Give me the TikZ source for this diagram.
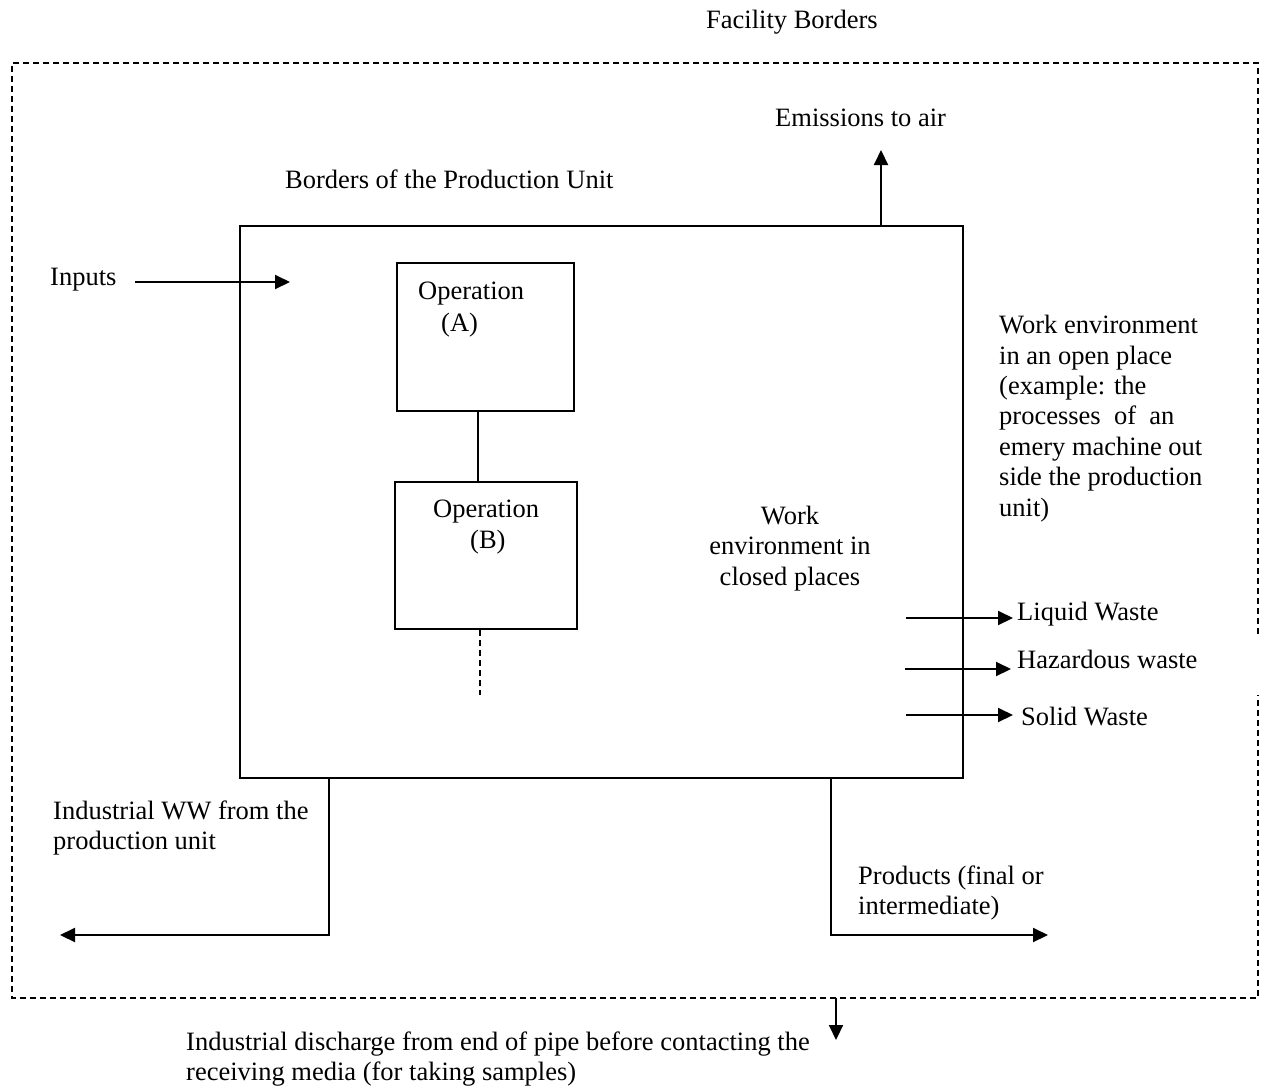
\documentclass[tikz,border=0pt]{standalone}
\usepackage{fontspec}
\setmainfont{Liberation Serif}
\usetikzlibrary{arrows.meta,calc}
\begin{document}
\begin{tikzpicture}[x=1pt,y=-1pt,
  txt/.style={inner sep=0pt, font=\fontsize{26.5}{30}\selectfont, align=left},
  ln/.style={line width=2pt},
  arr/.style={ln,-{Triangle[length=15pt,width=14pt]}},
  dsh/.style={line width=2pt,dash pattern=on 6pt off 4pt},
  boxn/.style={draw,line width=2pt,inner sep=0pt}
]
\useasboundingbox (0,0) rectangle (1266,1092);

% facility border (dashed, gap on right side)
\coordinate (fTL) at (12,63);
\coordinate (fTR) at (1258,63);
\coordinate (fBR) at (1258,998);
\coordinate (fBL) at (12,998);
\coordinate (gapT) at (1258,634);
\coordinate (gapB) at (1258,695);
\draw[dsh] (gapT) -- (fTR) -- (fTL) -- (fBL) -- (fBR) -- (gapB);

% boxes
\node[boxn,minimum width=723pt,minimum height=552pt] (pu) at (601.5,502) {};
\node[boxn,minimum width=177pt,minimum height=148pt] (opA) at (485.5,337) {};
\node[boxn,minimum width=182pt,minimum height=147pt] (opB) at (486,555.5) {};

% texts
\node[txt,anchor=base west] (tFac) at (706,28) {Facility Borders};
\node[txt,anchor=base west] (tEm) at (775,126) {Emissions to air};
\node[txt,anchor=base west] (tPU) at (285,188) {Borders of the Production Unit};
\node[txt,anchor=base west] (tIn) at (50,285) {Inputs};
\node[txt,anchor=base west] (tOpA) at (418,299) {Operation};
\node[txt,anchor=base west] (tA) at (441,331) {(A)};
\node[txt,anchor=base west] (tOpB) at (433,517) {Operation};
\node[txt,anchor=base west] (tB) at (470,548) {(B)};
\node[txt,anchor=base west,font=\fontsize{26.5}{30.4}\selectfont] (tOpen) at (999,516) {Work environment\\in an open place\\(example: the\\processes\ \ of\ \ an\\emery machine out\\side the production\\unit)};
\node[txt,anchor=base,align=center,font=\fontsize{26.5}{30.5}\selectfont] (tClosed) at (790,585) {Work\\environment in\\closed places};
\node[txt,anchor=base west] (tLiq) at (1017,620) {Liquid Waste};
\node[txt,anchor=base west] (tHaz) at (1017,668) {Hazardous waste};
\node[txt,anchor=base west] (tSol) at (1021,725) {Solid Waste};
\node[txt,anchor=base west] (tWW) at (53,849) {Industrial WW from the\\production unit};
\node[txt,anchor=base west] (tProd) at (858,914) {Products (final or\\intermediate)};
\node[txt,anchor=base west] (tDis) at (186,1080) {Industrial discharge from end of pipe before contacting the\\receiving media (for taking samples)};

% connectors
\coordinate (aTop) at (478,0);
\draw[ln] (opA.south -| aTop) -- (opB.north -| aTop);
\coordinate (bDash) at (480,695);
\draw[dsh] (opB.south -| bDash) -- (bDash);

\coordinate (emTip) at (881,150);
\draw[arr] (pu.north -| emTip) -- (emTip);

\coordinate (inS) at (135,282);
\coordinate (inT) at (290,282);
\draw[arr] (inS) -- (inT);

\coordinate (lS) at (906,618); \coordinate (lT) at (1013,618);
\coordinate (hS) at (905,669); \coordinate (hT) at (1011,669);
\coordinate (sS) at (906,715); \coordinate (sT) at (1013,715);
\draw[arr] (lS) -- (lT);
\draw[arr] (hS) -- (hT);
\draw[arr] (sS) -- (sT);

\coordinate (wwX) at (329,935);
\coordinate (wwT) at (60,935);
\draw[arr] (pu.south -| wwX) -- (wwX) -- (wwT);

\coordinate (prX) at (831,935);
\coordinate (prT) at (1048,935);
\draw[arr] (pu.south -| prX) -- (prX) -- (prT);

\coordinate (dsS) at (836,998);
\coordinate (dsT) at (836,1040);
\draw[arr] (dsS) -- (dsT);
\end{tikzpicture}
\end{document}
